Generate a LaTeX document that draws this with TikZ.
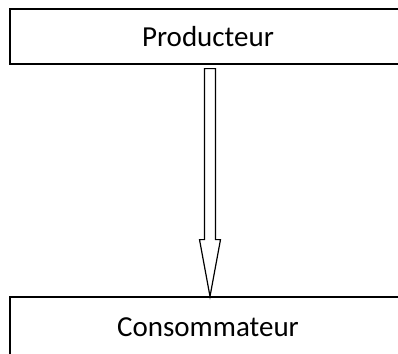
\documentclass[tikz,border=0pt]{standalone}
\usepackage{fontspec}
\setmainfont{Carlito}
\usetikzlibrary{calc}

\begin{document}
\begin{tikzpicture}[
  x=1pt, y=-1pt,
  font=\fontsize{29}{35}\selectfont,
  box/.style={rectangle, draw=black, line width=1.2pt, align=center,
              minimum width=396pt, minimum height=55pt, inner sep=0pt},
  hollow/.style={draw=black, line width=1.2pt, fill=white, line join=miter},
]
\useasboundingbox (0,0) rectangle (398,353);

% ---------------------------------------------------------------- the two boxes
\node[box] (prod) at (208,36.5) {Producteur};
\node[box, minimum height=60pt] (cons) at (208,327) {Consommateur};

% --------------------------------------------------------------- block arrow
\coordinate (tail) at ($(prod.south)+(2,4)$);
\draw[hollow] ($(tail)+(-5.5,0)$) -- ++(0,171) -- ++(-5,0) -- (cons.north -| tail)
      -- ($(tail)+(10.5,171)$) -- ++(-5,0) -- ($(tail)+(5.5,0)$) -- cycle;
\end{tikzpicture}
\end{document}
